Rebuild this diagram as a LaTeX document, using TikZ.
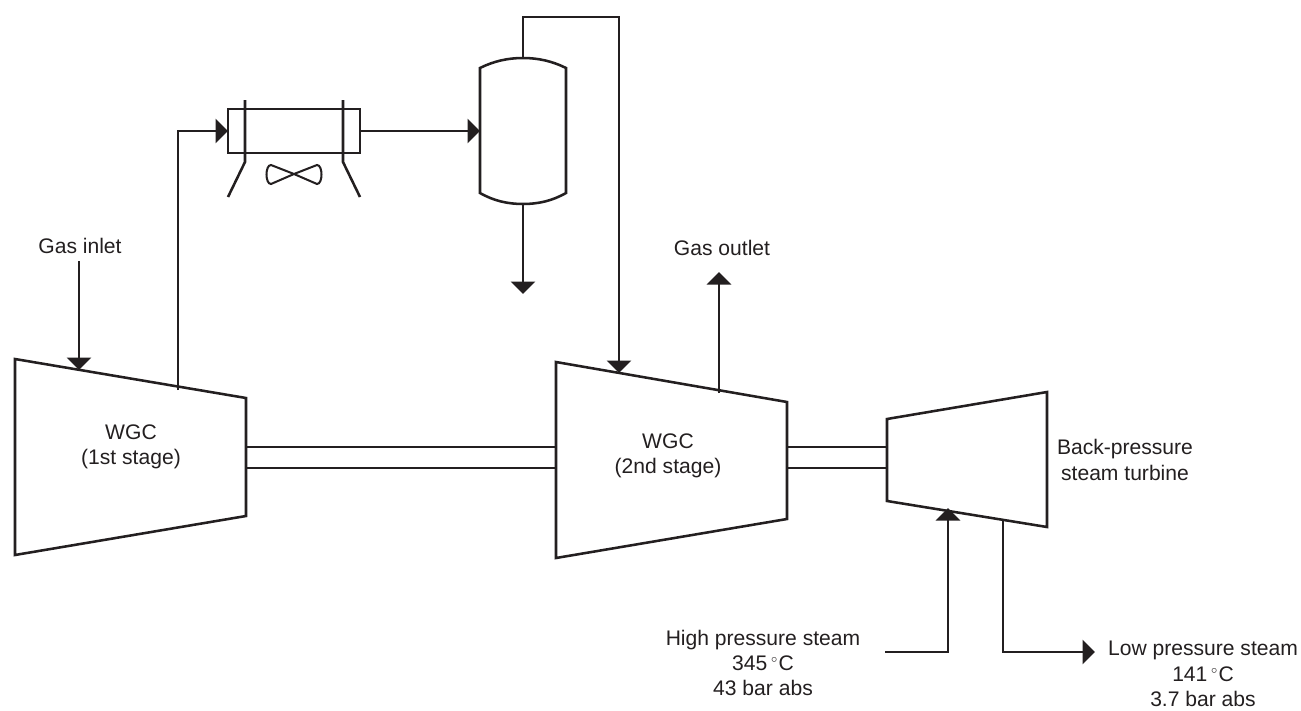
\documentclass[tikz,border=0pt]{standalone}
\usepackage{fontspec}
\setmainfont{Liberation Sans}
\usetikzlibrary{arrows.meta}
\definecolor{ink}{HTML}{231F20}
\tikzset{
  pipe/.style={line width=1.45pt, line join=miter, draw=ink},
  flow/.style={pipe, -{Triangle[length=0.25cm,width=0.48cm]}},
  txt/.style={align=center, inner sep=0pt, text=ink, font=\fontsize{12}{14.4}\selectfont},
}
\begin{document}
\begin{tikzpicture}[x=0.02cm, y=-0.02cm]
\useasboundingbox (0,0) rectangle (1301,710);
% machines
\coordinate (c1a) at (15,359);
\coordinate (c1b) at (246,398);
\coordinate (c1c) at (246,516);
\coordinate (c1d) at (15,555);
\coordinate (c2a) at (556,362);
\coordinate (c2b) at (787,402);
\coordinate (c2c) at (787,519);
\coordinate (c2d) at (556,558);
\coordinate (t1a) at (887,419);
\coordinate (t1b) at (1047,392);
\coordinate (t1c) at (1047,527);
\coordinate (t1d) at (887,501);
\draw [pipe] (c1a) -- (c1b) -- (c1c) -- (c1d) -- cycle;
\draw [pipe] (c2a) -- (c2b) -- (c2c) -- (c2d) -- cycle;
\draw [pipe] (t1a) -- (t1b) -- (t1c) -- (t1d) -- cycle;
% shafts
\coordinate (s1a) at (245,447);
\coordinate (s1b) at (245,468);
\coordinate (s2a) at (556,447);
\coordinate (s2b) at (556,468);
\coordinate (s3a) at (787,447);
\coordinate (s3b) at (787,468);
\coordinate (s4a) at (887,447);
\coordinate (s4b) at (887,468);
\draw [pipe] (s1a) -- (s2a)
(s1b) -- (s2b)
(s3a) -- (s4a)
(s3b) -- (s4b);
% cooler
\node [draw, pipe, minimum width=2.64cm, minimum height=0.88cm, inner sep=0pt] (hx) at (294,131) {};
\coordinate (hxa) at (245,100);
\coordinate (hxb) at (245,162);
\coordinate (hxc) at (228,197);
\coordinate (hxd) at (343,100);
\coordinate (hxe) at (343,162);
\coordinate (hxf) at (360,197);
\draw [pipe] (hxa) -- (hxb) -- (hxc)
(hxd) -- (hxe) -- (hxf);
\coordinate (fan) at (294,174);
\draw [line width=1.15pt, draw=ink] (fan) -- (271,165) .. controls (265,165) and (265,184) .. (271,184) -- (fan)
-- (317,165) .. controls (323,165) and (323,184) .. (317,184) -- cycle;
% separator
\coordinate (vt) at (523,58);
\coordinate (vb) at (523,204);
\coordinate (vl) at (480,131);
\draw [pipe] (480,68) .. controls (494,61) and (508,58) .. (vt) .. controls (538,58) and (552,61) .. (566,68)
-- (566,193) .. controls (552,201) and (538,204) .. (vb) .. controls (508,204) and (494,201) .. (480,193) -- cycle;
% stream ends
\coordinate (gi) at (79,261);
\coordinate (gt) at (79,370);
\coordinate (o1) at (178,390);
\coordinate (hi) at (228,131);
\coordinate (d1) at (523,294);
\coordinate (i2) at (619,373);
\coordinate (o2) at (719,393);
\coordinate (go) at (719,272);
\coordinate (hp) at (885,652);
\coordinate (ht) at (948,508);
\coordinate (lo) at (1003,520);
\coordinate (lp) at (1095,652);
\draw [flow] (gi) -- (gt);
\draw [flow] (o1) |- (hi);
\draw [flow] (hx.east) -- (vl);
\draw [flow] (vb) -- (d1);
\draw [flow] (vt) -- (523,17) -| (i2);
\draw [flow] (o2) -- (go);
\draw [flow] (hp) -| (ht);
\draw [flow] (lo) |- (lp);
% labels
\node [txt] (l1) at (80,246) {Gas inlet};
\node [txt] (l2) at (722,248) {Gas outlet};
\node [txt] (l3) at (131,447) {WGC\\(1st stage)};
\node [txt] (l4) at (668,456) {WGC\\(2nd stage)};
\node [txt] (l5) at (1125,460) {Back-pressure\\steam turbine};
\node [txt] (l6) at (763,663) {High pressure steam\\345\,$^{\scriptscriptstyle\circ}$C\\43 bar abs};
\node [txt] (l7) at (1203,674) {Low pressure steam\\141\,$^{\scriptscriptstyle\circ}$C\\3.7 bar abs};
\end{tikzpicture}
\end{document}
